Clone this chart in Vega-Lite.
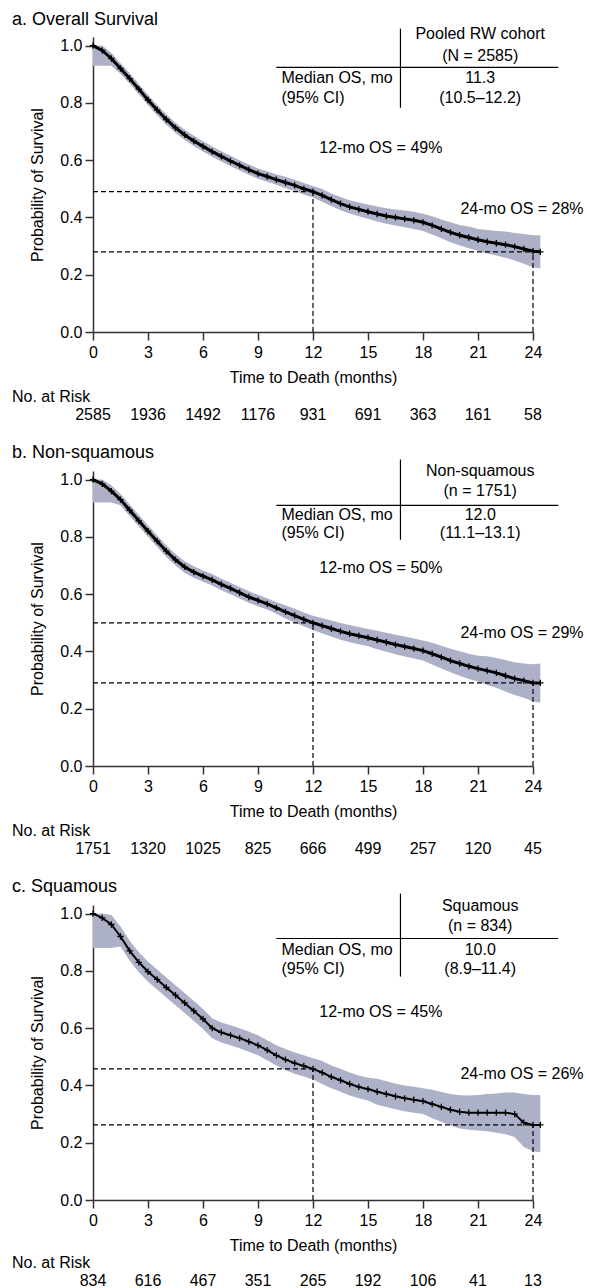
{
  "$schema": "https://vega.github.io/schema/vega-lite/v6.json",
  "background": "white",
  "padding": {"left": 12, "top": 10, "right": 5, "bottom": 0},
  "config": {
    "font": "Liberation Sans",
    "view": {"stroke": null},
    "axis": {"grid": false, "labelFontSize": 16, "titleFontSize": 16, "titleFontWeight": "normal", "labelColor": "#000", "titleColor": "#000", "domainColor": "#333", "tickColor": "#333", "domainWidth": 1.5, "tickWidth": 1.5, "tickSize": 8, "labelPadding": 3, "labelFont": "Liberation Sans", "titleFont": "Liberation Sans"},
    "axisX": {"titlePadding": 9, "labelPadding": 4, "labelFlush": false},
    "axisY": {"titlePadding": 14},
    "title": {"fontSize": 18, "fontWeight": "normal", "color": "#000", "anchor": "start", "font": "Liberation Sans"},
    "text": {"fontSize": 16, "color": "#000", "font": "Liberation Sans"}
  },
  "datasets": {
    "km_a": [
      {"t":0,"s":1,"lo":0.93,"hi":1},{"t":0.5,"s":0.983,"lo":0.93,"hi":1},{"t":1,"s":0.955,"lo":0.93,"hi":0.975},{"t":1.5,"s":0.92,"lo":0.902,"hi":0.938},{"t":2,"s":0.885,"lo":0.867,"hi":0.903},{"t":2.5,"s":0.848,"lo":0.83,"hi":0.866},{"t":3,"s":0.81,"lo":0.792,"hi":0.828},{"t":3.5,"s":0.775,"lo":0.757,"hi":0.793},{"t":4,"s":0.742,"lo":0.724,"hi":0.76},{"t":4.5,"s":0.713,"lo":0.695,"hi":0.731},{"t":5,"s":0.688,"lo":0.67,"hi":0.706},{"t":5.5,"s":0.667,"lo":0.649,"hi":0.685},{"t":6,"s":0.648,"lo":0.63,"hi":0.666},{"t":6.5,"s":0.63,"lo":0.612,"hi":0.648},{"t":7,"s":0.613,"lo":0.595,"hi":0.631},{"t":7.5,"s":0.597,"lo":0.579,"hi":0.615},{"t":8,"s":0.582,"lo":0.564,"hi":0.6},{"t":8.5,"s":0.567,"lo":0.549,"hi":0.585},{"t":9,"s":0.553,"lo":0.535,"hi":0.571},{"t":9.5,"s":0.543,"lo":0.525,"hi":0.561},{"t":10,"s":0.532,"lo":0.514,"hi":0.55},{"t":10.5,"s":0.522,"lo":0.502,"hi":0.542},{"t":11,"s":0.512,"lo":0.492,"hi":0.532},{"t":11.5,"s":0.5,"lo":0.48,"hi":0.52},{"t":12,"s":0.49,"lo":0.47,"hi":0.51},{"t":12.5,"s":0.477,"lo":0.455,"hi":0.499},{"t":13,"s":0.462,"lo":0.44,"hi":0.484},{"t":13.5,"s":0.448,"lo":0.425,"hi":0.471},{"t":14,"s":0.437,"lo":0.414,"hi":0.46},{"t":14.5,"s":0.428,"lo":0.404,"hi":0.452},{"t":15,"s":0.42,"lo":0.395,"hi":0.445},{"t":15.5,"s":0.412,"lo":0.386,"hi":0.438},{"t":16,"s":0.405,"lo":0.378,"hi":0.432},{"t":16.5,"s":0.4,"lo":0.372,"hi":0.428},{"t":17,"s":0.395,"lo":0.366,"hi":0.424},{"t":17.5,"s":0.39,"lo":0.36,"hi":0.42},{"t":18,"s":0.383,"lo":0.353,"hi":0.413},{"t":18.5,"s":0.372,"lo":0.34,"hi":0.404},{"t":19,"s":0.36,"lo":0.327,"hi":0.393},{"t":19.5,"s":0.348,"lo":0.313,"hi":0.383},{"t":20,"s":0.338,"lo":0.302,"hi":0.374},{"t":20.5,"s":0.33,"lo":0.292,"hi":0.368},{"t":21,"s":0.322,"lo":0.284,"hi":0.36},{"t":21.5,"s":0.315,"lo":0.274,"hi":0.356},{"t":22,"s":0.31,"lo":0.267,"hi":0.353},{"t":22.5,"s":0.305,"lo":0.259,"hi":0.351},{"t":23,"s":0.298,"lo":0.25,"hi":0.346},{"t":23.5,"s":0.29,"lo":0.238,"hi":0.342},{"t":24,"s":0.282,"lo":0.226,"hi":0.338},{"t":24.4,"s":0.28,"lo":0.222,"hi":0.338}
    ],
    "km_b": [
      {"t":0,"s":1,"lo":0.92,"hi":1},{"t":0.5,"s":0.985,"lo":0.92,"hi":1},{"t":1,"s":0.96,"lo":0.92,"hi":0.98},{"t":1.5,"s":0.93,"lo":0.91,"hi":0.95},{"t":2,"s":0.893,"lo":0.873,"hi":0.913},{"t":2.5,"s":0.856,"lo":0.836,"hi":0.876},{"t":3,"s":0.82,"lo":0.8,"hi":0.84},{"t":3.5,"s":0.785,"lo":0.765,"hi":0.805},{"t":4,"s":0.75,"lo":0.73,"hi":0.77},{"t":4.5,"s":0.72,"lo":0.7,"hi":0.74},{"t":5,"s":0.695,"lo":0.675,"hi":0.715},{"t":5.5,"s":0.677,"lo":0.657,"hi":0.697},{"t":6,"s":0.663,"lo":0.643,"hi":0.683},{"t":6.5,"s":0.65,"lo":0.63,"hi":0.67},{"t":7,"s":0.634,"lo":0.614,"hi":0.654},{"t":7.5,"s":0.62,"lo":0.6,"hi":0.64},{"t":8,"s":0.605,"lo":0.585,"hi":0.625},{"t":8.5,"s":0.59,"lo":0.57,"hi":0.61},{"t":9,"s":0.578,"lo":0.558,"hi":0.598},{"t":9.5,"s":0.566,"lo":0.546,"hi":0.586},{"t":10,"s":0.552,"lo":0.532,"hi":0.572},{"t":10.5,"s":0.538,"lo":0.515,"hi":0.561},{"t":11,"s":0.525,"lo":0.501,"hi":0.549},{"t":11.5,"s":0.512,"lo":0.488,"hi":0.536},{"t":12,"s":0.5,"lo":0.475,"hi":0.525},{"t":12.5,"s":0.49,"lo":0.463,"hi":0.517},{"t":13,"s":0.48,"lo":0.452,"hi":0.508},{"t":13.5,"s":0.47,"lo":0.441,"hi":0.499},{"t":14,"s":0.462,"lo":0.432,"hi":0.492},{"t":14.5,"s":0.455,"lo":0.425,"hi":0.485},{"t":15,"s":0.448,"lo":0.418,"hi":0.478},{"t":15.5,"s":0.44,"lo":0.408,"hi":0.472},{"t":16,"s":0.432,"lo":0.399,"hi":0.465},{"t":16.5,"s":0.424,"lo":0.39,"hi":0.458},{"t":17,"s":0.417,"lo":0.382,"hi":0.452},{"t":17.5,"s":0.41,"lo":0.375,"hi":0.445},{"t":18,"s":0.403,"lo":0.368,"hi":0.438},{"t":18.5,"s":0.392,"lo":0.354,"hi":0.43},{"t":19,"s":0.38,"lo":0.34,"hi":0.42},{"t":19.5,"s":0.368,"lo":0.327,"hi":0.409},{"t":20,"s":0.358,"lo":0.315,"hi":0.401},{"t":20.5,"s":0.348,"lo":0.304,"hi":0.392},{"t":21,"s":0.34,"lo":0.295,"hi":0.385},{"t":21.5,"s":0.333,"lo":0.283,"hi":0.383},{"t":22,"s":0.325,"lo":0.273,"hi":0.377},{"t":22.5,"s":0.315,"lo":0.26,"hi":0.37},{"t":23,"s":0.305,"lo":0.248,"hi":0.362},{"t":23.5,"s":0.298,"lo":0.238,"hi":0.358},{"t":24,"s":0.29,"lo":0.225,"hi":0.355},{"t":24.4,"s":0.29,"lo":0.222,"hi":0.358}
    ],
    "km_c": [
      {"t":0,"s":1,"lo":0.88,"hi":1},{"t":0.5,"s":0.985,"lo":0.88,"hi":1},{"t":1,"s":0.962,"lo":0.88,"hi":0.995},{"t":1.5,"s":0.92,"lo":0.885,"hi":0.955},{"t":2,"s":0.87,"lo":0.835,"hi":0.905},{"t":2.5,"s":0.83,"lo":0.795,"hi":0.865},{"t":3,"s":0.797,"lo":0.762,"hi":0.832},{"t":3.5,"s":0.77,"lo":0.735,"hi":0.805},{"t":4,"s":0.742,"lo":0.707,"hi":0.777},{"t":4.5,"s":0.715,"lo":0.68,"hi":0.75},{"t":5,"s":0.688,"lo":0.653,"hi":0.723},{"t":5.5,"s":0.66,"lo":0.625,"hi":0.695},{"t":6,"s":0.632,"lo":0.597,"hi":0.667},{"t":6.5,"s":0.6,"lo":0.565,"hi":0.635},{"t":7,"s":0.585,"lo":0.55,"hi":0.62},{"t":7.5,"s":0.575,"lo":0.54,"hi":0.61},{"t":8,"s":0.565,"lo":0.53,"hi":0.6},{"t":8.5,"s":0.553,"lo":0.518,"hi":0.588},{"t":9,"s":0.54,"lo":0.505,"hi":0.575},{"t":9.5,"s":0.523,"lo":0.488,"hi":0.558},{"t":10,"s":0.505,"lo":0.47,"hi":0.54},{"t":10.5,"s":0.49,"lo":0.453,"hi":0.527},{"t":11,"s":0.478,"lo":0.441,"hi":0.515},{"t":11.5,"s":0.468,"lo":0.431,"hi":0.505},{"t":12,"s":0.458,"lo":0.421,"hi":0.495},{"t":12.5,"s":0.445,"lo":0.405,"hi":0.485},{"t":13,"s":0.43,"lo":0.39,"hi":0.47},{"t":13.5,"s":0.418,"lo":0.378,"hi":0.458},{"t":14,"s":0.405,"lo":0.365,"hi":0.445},{"t":14.5,"s":0.395,"lo":0.355,"hi":0.435},{"t":15,"s":0.387,"lo":0.347,"hi":0.427},{"t":15.5,"s":0.378,"lo":0.333,"hi":0.423},{"t":16,"s":0.37,"lo":0.325,"hi":0.415},{"t":16.5,"s":0.362,"lo":0.317,"hi":0.407},{"t":17,"s":0.355,"lo":0.31,"hi":0.4},{"t":17.5,"s":0.35,"lo":0.305,"hi":0.395},{"t":18,"s":0.345,"lo":0.3,"hi":0.39},{"t":18.5,"s":0.335,"lo":0.285,"hi":0.385},{"t":19,"s":0.325,"lo":0.273,"hi":0.377},{"t":19.5,"s":0.315,"lo":0.26,"hi":0.37},{"t":20,"s":0.308,"lo":0.25,"hi":0.366},{"t":20.5,"s":0.305,"lo":0.245,"hi":0.365},{"t":21,"s":0.305,"lo":0.243,"hi":0.367},{"t":21.5,"s":0.305,"lo":0.24,"hi":0.37},{"t":22,"s":0.305,"lo":0.235,"hi":0.372},{"t":22.5,"s":0.305,"lo":0.23,"hi":0.375},{"t":23,"s":0.3,"lo":0.22,"hi":0.375},{"t":23.5,"s":0.27,"lo":0.185,"hi":0.37},{"t":24,"s":0.262,"lo":0.17,"hi":0.367},{"t":24.4,"s":0.262,"lo":0.167,"hi":0.367}
    ],
    "ref": [
      {"p":"a","z":0,"t":12,"v":0.49},{"p":"a","z":0,"t":24,"v":0.28},
      {"p":"b","z":0,"t":12,"v":0.5},{"p":"b","z":0,"t":24,"v":0.29},
      {"p":"c","z":0,"t":12,"v":0.458},{"p":"c","z":0,"t":24,"v":0.262}
    ],
    "info": [
      {"p":"a","header":"Pooled RW cohort","n":"(N = 2585)","med":"11.3","ci":"(10.5–12.2)","lab12":"12-mo OS = 49%","lab24":"24-mo OS = 28%"},
      {"p":"b","header":"Non-squamous","n":"(n = 1751)","med":"12.0","ci":"(11.1–13.1)","lab12":"12-mo OS = 50%","lab24":"24-mo OS = 29%"},
      {"p":"c","header":"Squamous","n":"(n = 834)","med":"10.0","ci":"(8.9–11.4)","lab12":"12-mo OS = 45%","lab24":"24-mo OS = 26%"}
    ],
    "risk": [
      {"p":"a","t":0,"n":2585},{"p":"a","t":3,"n":1936},{"p":"a","t":6,"n":1492},{"p":"a","t":9,"n":1176},{"p":"a","t":12,"n":931},{"p":"a","t":15,"n":691},{"p":"a","t":18,"n":363},{"p":"a","t":21,"n":161},{"p":"a","t":24,"n":58},
      {"p":"b","t":0,"n":1751},{"p":"b","t":3,"n":1320},{"p":"b","t":6,"n":1025},{"p":"b","t":9,"n":825},{"p":"b","t":12,"n":666},{"p":"b","t":15,"n":499},{"p":"b","t":18,"n":257},{"p":"b","t":21,"n":120},{"p":"b","t":24,"n":45},
      {"p":"c","t":0,"n":834},{"p":"c","t":3,"n":616},{"p":"c","t":6,"n":467},{"p":"c","t":9,"n":351},{"p":"c","t":12,"n":265},{"p":"c","t":15,"n":192},{"p":"c","t":18,"n":106},{"p":"c","t":21,"n":41},{"p":"c","t":24,"n":13}
    ]
  },
  "spacing": 20,
  "vconcat": [
    {
      "spacing": 4,
      "vconcat": [
        {
          "width": 440, "height": 295,
          "title": {"text": "a. Overall Survival", "anchor": "start", "frame": "group", "dx": -81, "offset": -3},
          "layer": [
            {"data": {"name": "km_a"}, "mark": {"type": "area", "color": "#acb1c7", "opacity": 1},
             "encoding": {
               "x": {"field": "t", "type": "quantitative", "title": "Time to Death (months)", "scale": {"domain": [0, 24], "nice": false}, "axis": {"values": [0,3,6,9,12,15,18,21,24]}},
               "y": {"field": "lo", "type": "quantitative", "title": "Probability of Survival", "scale": {"domain": [0, 1.03], "nice": false}, "axis": {"values": [0,0.2,0.4,0.6,0.8,1], "format": ".1f"}},
               "y2": {"field": "hi"}}},
            {"data": {"name": "km_a"}, "mark": {"type": "line", "color": "#000", "strokeWidth": 3},
             "encoding": {"x": {"field": "t", "type": "quantitative", "title": "Time to Death (months)"}, "y": {"field": "s", "type": "quantitative", "title": "Probability of Survival"}}},
            {"data": {"name": "km_a"}, "mark": {"type": "point", "shape": "M-1,0H1M0,-1V1", "size": 40, "strokeWidth": 1.3, "color": "#000", "filled": false, "opacity": 1},
             "encoding": {"x": {"field": "t", "type": "quantitative", "title": "Time to Death (months)"}, "y": {"field": "s", "type": "quantitative", "title": "Probability of Survival"}}},
            {"data": {"name": "ref"}, "transform": [{"filter": "datum.p == 'a'"}], "mark": {"type": "rule", "color": "#000", "strokeDash": [5, 3], "strokeWidth": 1.2},
             "encoding": {"x": {"field": "z", "type": "quantitative", "title": "Time to Death (months)"}, "x2": {"field": "t"}, "y": {"field": "v", "type": "quantitative", "title": "Probability of Survival"}}},
            {"data": {"name": "ref"}, "transform": [{"filter": "datum.p == 'a'"}], "mark": {"type": "rule", "color": "#000", "strokeDash": [5, 3], "strokeWidth": 1.2},
             "encoding": {"x": {"field": "t", "type": "quantitative", "title": "Time to Death (months)"}, "y": {"field": "z", "type": "quantitative", "title": "Probability of Survival"}, "y2": {"field": "v"}}},
            {"data": {"name": "info"}, "transform": [{"filter": "datum.p == 'a'"}], "mark": {"type": "text", "align": "center", "baseline": "middle"},
             "encoding": {"x": {"datum": 15.7, "type": "quantitative"}, "y": {"datum": 0.643, "type": "quantitative"}, "text": {"field": "lab12", "type": "nominal"}}},
            {"data": {"name": "info"}, "transform": [{"filter": "datum.p == 'a'"}], "mark": {"type": "text", "align": "center", "baseline": "middle"},
             "encoding": {"x": {"datum": 23.4, "type": "quantitative"}, "y": {"datum": 0.43, "type": "quantitative"}, "text": {"field": "lab24", "type": "nominal"}}},
            {"data": {"name": "info"}, "transform": [{"filter": "datum.p == 'a'"}], "mark": {"type": "rule", "color": "#000", "strokeWidth": 1.2},
             "encoding": {"x": {"datum": 16.77, "type": "quantitative"}, "y": {"datum": 0.783, "type": "quantitative"}, "y2": {"datum": 1.059}}},
            {"data": {"name": "info"}, "transform": [{"filter": "datum.p == 'a'"}], "mark": {"type": "rule", "color": "#000", "strokeWidth": 1.2},
             "encoding": {"x": {"datum": 10.0, "type": "quantitative"}, "x2": {"datum": 25.38}, "y": {"datum": 0.924, "type": "quantitative"}}},
            {"data": {"name": "info"}, "transform": [{"filter": "datum.p == 'a'"}], "mark": {"type": "text", "align": "center", "baseline": "middle"},
             "encoding": {"x": {"datum": 21.12, "type": "quantitative"}, "y": {"datum": 1.042, "type": "quantitative"}, "text": {"field": "header", "type": "nominal"}}},
            {"data": {"name": "info"}, "transform": [{"filter": "datum.p == 'a'"}], "mark": {"type": "text", "align": "center", "baseline": "middle"},
             "encoding": {"x": {"datum": 21.12, "type": "quantitative"}, "y": {"datum": 0.965, "type": "quantitative"}, "text": {"field": "n", "type": "nominal"}}},
            {"data": {"name": "info"}, "transform": [{"filter": "datum.p == 'a'"}], "mark": {"type": "text", "align": "center", "baseline": "middle"},
             "encoding": {"x": {"datum": 21.12, "type": "quantitative"}, "y": {"datum": 0.888, "type": "quantitative"}, "text": {"field": "med", "type": "nominal"}}},
            {"data": {"name": "info"}, "transform": [{"filter": "datum.p == 'a'"}], "mark": {"type": "text", "align": "center", "baseline": "middle"},
             "encoding": {"x": {"datum": 21.12, "type": "quantitative"}, "y": {"datum": 0.818, "type": "quantitative"}, "text": {"field": "ci", "type": "nominal"}}},
            {"data": {"name": "info"}, "transform": [{"filter": "datum.p == 'a'"}], "mark": {"type": "text", "align": "left", "baseline": "middle"},
             "encoding": {"x": {"datum": 10.28, "type": "quantitative"}, "y": {"datum": 0.888, "type": "quantitative"}, "text": {"value": "Median OS, mo"}}},
            {"data": {"name": "info"}, "transform": [{"filter": "datum.p == 'a'"}], "mark": {"type": "text", "align": "left", "baseline": "middle"},
             "encoding": {"x": {"datum": 10.28, "type": "quantitative"}, "y": {"datum": 0.818, "type": "quantitative"}, "text": {"value": "(95% CI)"}}}
          ]
        },
        {
          "width": 440, "height": 16,
          "title": {"text": "No. at Risk", "anchor": "start", "frame": "group", "dx": -81, "offset": 2, "fontSize": 16},
          "data": {"name": "risk"}, "transform": [{"filter": "datum.p == 'a'"}],
          "mark": {"type": "text", "baseline": "middle", "align": "center"},
          "encoding": {"x": {"field": "t", "type": "quantitative", "scale": {"domain": [0, 24], "nice": false}, "axis": null}, "text": {"field": "n", "type": "quantitative", "format": "d"}}
        }
      ]
    },
    {
      "spacing": 4,
      "vconcat": [
        {
          "width": 440, "height": 295,
          "title": {"text": "b. Non-squamous", "anchor": "start", "frame": "group", "dx": -81, "offset": -3},
          "layer": [
            {"data": {"name": "km_b"}, "mark": {"type": "area", "color": "#acb1c7", "opacity": 1},
             "encoding": {
               "x": {"field": "t", "type": "quantitative", "title": "Time to Death (months)", "scale": {"domain": [0, 24], "nice": false}, "axis": {"values": [0,3,6,9,12,15,18,21,24]}},
               "y": {"field": "lo", "type": "quantitative", "title": "Probability of Survival", "scale": {"domain": [0, 1.03], "nice": false}, "axis": {"values": [0,0.2,0.4,0.6,0.8,1], "format": ".1f"}},
               "y2": {"field": "hi"}}},
            {"data": {"name": "km_b"}, "mark": {"type": "line", "color": "#000", "strokeWidth": 3},
             "encoding": {"x": {"field": "t", "type": "quantitative", "title": "Time to Death (months)"}, "y": {"field": "s", "type": "quantitative", "title": "Probability of Survival"}}},
            {"data": {"name": "km_b"}, "mark": {"type": "point", "shape": "M-1,0H1M0,-1V1", "size": 40, "strokeWidth": 1.3, "color": "#000", "filled": false, "opacity": 1},
             "encoding": {"x": {"field": "t", "type": "quantitative", "title": "Time to Death (months)"}, "y": {"field": "s", "type": "quantitative", "title": "Probability of Survival"}}},
            {"data": {"name": "ref"}, "transform": [{"filter": "datum.p == 'b'"}], "mark": {"type": "rule", "color": "#000", "strokeDash": [5, 3], "strokeWidth": 1.2},
             "encoding": {"x": {"field": "z", "type": "quantitative", "title": "Time to Death (months)"}, "x2": {"field": "t"}, "y": {"field": "v", "type": "quantitative", "title": "Probability of Survival"}}},
            {"data": {"name": "ref"}, "transform": [{"filter": "datum.p == 'b'"}], "mark": {"type": "rule", "color": "#000", "strokeDash": [5, 3], "strokeWidth": 1.2},
             "encoding": {"x": {"field": "t", "type": "quantitative", "title": "Time to Death (months)"}, "y": {"field": "z", "type": "quantitative", "title": "Probability of Survival"}, "y2": {"field": "v"}}},
            {"data": {"name": "info"}, "transform": [{"filter": "datum.p == 'b'"}], "mark": {"type": "text", "align": "center", "baseline": "middle"},
             "encoding": {"x": {"datum": 15.7, "type": "quantitative"}, "y": {"datum": 0.69, "type": "quantitative"}, "text": {"field": "lab12", "type": "nominal"}}},
            {"data": {"name": "info"}, "transform": [{"filter": "datum.p == 'b'"}], "mark": {"type": "text", "align": "center", "baseline": "middle"},
             "encoding": {"x": {"datum": 23.4, "type": "quantitative"}, "y": {"datum": 0.466, "type": "quantitative"}, "text": {"field": "lab24", "type": "nominal"}}},
            {"data": {"name": "info"}, "transform": [{"filter": "datum.p == 'b'"}], "mark": {"type": "rule", "color": "#000", "strokeWidth": 1.2},
             "encoding": {"x": {"datum": 16.77, "type": "quantitative"}, "y": {"datum": 0.79, "type": "quantitative"}, "y2": {"datum": 1.07}}},
            {"data": {"name": "info"}, "transform": [{"filter": "datum.p == 'b'"}], "mark": {"type": "rule", "color": "#000", "strokeWidth": 1.2},
             "encoding": {"x": {"datum": 10.0, "type": "quantitative"}, "x2": {"datum": 25.38}, "y": {"datum": 0.91, "type": "quantitative"}}},
            {"data": {"name": "info"}, "transform": [{"filter": "datum.p == 'b'"}], "mark": {"type": "text", "align": "center", "baseline": "middle"},
             "encoding": {"x": {"datum": 21.12, "type": "quantitative"}, "y": {"datum": 1.03, "type": "quantitative"}, "text": {"field": "header", "type": "nominal"}}},
            {"data": {"name": "info"}, "transform": [{"filter": "datum.p == 'b'"}], "mark": {"type": "text", "align": "center", "baseline": "middle"},
             "encoding": {"x": {"datum": 21.12, "type": "quantitative"}, "y": {"datum": 0.96, "type": "quantitative"}, "text": {"field": "n", "type": "nominal"}}},
            {"data": {"name": "info"}, "transform": [{"filter": "datum.p == 'b'"}], "mark": {"type": "text", "align": "center", "baseline": "middle"},
             "encoding": {"x": {"datum": 21.12, "type": "quantitative"}, "y": {"datum": 0.876, "type": "quantitative"}, "text": {"field": "med", "type": "nominal"}}},
            {"data": {"name": "info"}, "transform": [{"filter": "datum.p == 'b'"}], "mark": {"type": "text", "align": "center", "baseline": "middle"},
             "encoding": {"x": {"datum": 21.12, "type": "quantitative"}, "y": {"datum": 0.813, "type": "quantitative"}, "text": {"field": "ci", "type": "nominal"}}},
            {"data": {"name": "info"}, "transform": [{"filter": "datum.p == 'b'"}], "mark": {"type": "text", "align": "left", "baseline": "middle"},
             "encoding": {"x": {"datum": 10.28, "type": "quantitative"}, "y": {"datum": 0.876, "type": "quantitative"}, "text": {"value": "Median OS, mo"}}},
            {"data": {"name": "info"}, "transform": [{"filter": "datum.p == 'b'"}], "mark": {"type": "text", "align": "left", "baseline": "middle"},
             "encoding": {"x": {"datum": 10.28, "type": "quantitative"}, "y": {"datum": 0.813, "type": "quantitative"}, "text": {"value": "(95% CI)"}}}
          ]
        },
        {
          "width": 440, "height": 16,
          "title": {"text": "No. at Risk", "anchor": "start", "frame": "group", "dx": -81, "offset": 2, "fontSize": 16},
          "data": {"name": "risk"}, "transform": [{"filter": "datum.p == 'b'"}],
          "mark": {"type": "text", "baseline": "middle", "align": "center"},
          "encoding": {"x": {"field": "t", "type": "quantitative", "scale": {"domain": [0, 24], "nice": false}, "axis": null}, "text": {"field": "n", "type": "quantitative", "format": "d"}}
        }
      ]
    },
    {
      "spacing": 2,
      "vconcat": [
        {
          "width": 440, "height": 295,
          "title": {"text": "c. Squamous", "anchor": "start", "frame": "group", "dx": -81, "offset": -3},
          "layer": [
            {"data": {"name": "km_c"}, "mark": {"type": "area", "color": "#acb1c7", "opacity": 1},
             "encoding": {
               "x": {"field": "t", "type": "quantitative", "title": "Time to Death (months)", "scale": {"domain": [0, 24], "nice": false}, "axis": {"values": [0,3,6,9,12,15,18,21,24]}},
               "y": {"field": "lo", "type": "quantitative", "title": "Probability of Survival", "scale": {"domain": [0, 1.03], "nice": false}, "axis": {"values": [0,0.2,0.4,0.6,0.8,1], "format": ".1f"}},
               "y2": {"field": "hi"}}},
            {"data": {"name": "km_c"}, "mark": {"type": "line", "color": "#000", "strokeWidth": 2},
             "encoding": {"x": {"field": "t", "type": "quantitative", "title": "Time to Death (months)"}, "y": {"field": "s", "type": "quantitative", "title": "Probability of Survival"}}},
            {"data": {"name": "km_c"}, "mark": {"type": "point", "shape": "M-1,0H1M0,-1V1", "size": 40, "strokeWidth": 1.3, "color": "#000", "filled": false, "opacity": 1},
             "encoding": {"x": {"field": "t", "type": "quantitative", "title": "Time to Death (months)"}, "y": {"field": "s", "type": "quantitative", "title": "Probability of Survival"}}},
            {"data": {"name": "ref"}, "transform": [{"filter": "datum.p == 'c'"}], "mark": {"type": "rule", "color": "#000", "strokeDash": [5, 3], "strokeWidth": 1.2},
             "encoding": {"x": {"field": "z", "type": "quantitative", "title": "Time to Death (months)"}, "x2": {"field": "t"}, "y": {"field": "v", "type": "quantitative", "title": "Probability of Survival"}}},
            {"data": {"name": "ref"}, "transform": [{"filter": "datum.p == 'c'"}], "mark": {"type": "rule", "color": "#000", "strokeDash": [5, 3], "strokeWidth": 1.2},
             "encoding": {"x": {"field": "t", "type": "quantitative", "title": "Time to Death (months)"}, "y": {"field": "z", "type": "quantitative", "title": "Probability of Survival"}, "y2": {"field": "v"}}},
            {"data": {"name": "info"}, "transform": [{"filter": "datum.p == 'c'"}], "mark": {"type": "text", "align": "center", "baseline": "middle"},
             "encoding": {"x": {"datum": 15.7, "type": "quantitative"}, "y": {"datum": 0.657, "type": "quantitative"}, "text": {"field": "lab12", "type": "nominal"}}},
            {"data": {"name": "info"}, "transform": [{"filter": "datum.p == 'c'"}], "mark": {"type": "text", "align": "center", "baseline": "middle"},
             "encoding": {"x": {"datum": 23.4, "type": "quantitative"}, "y": {"datum": 0.44, "type": "quantitative"}, "text": {"field": "lab24", "type": "nominal"}}},
            {"data": {"name": "info"}, "transform": [{"filter": "datum.p == 'c'"}], "mark": {"type": "rule", "color": "#000", "strokeWidth": 1.2},
             "encoding": {"x": {"datum": 16.77, "type": "quantitative"}, "y": {"datum": 0.78, "type": "quantitative"}, "y2": {"datum": 1.07}}},
            {"data": {"name": "info"}, "transform": [{"filter": "datum.p == 'c'"}], "mark": {"type": "rule", "color": "#000", "strokeWidth": 1.2},
             "encoding": {"x": {"datum": 10.0, "type": "quantitative"}, "x2": {"datum": 25.38}, "y": {"datum": 0.913, "type": "quantitative"}}},
            {"data": {"name": "info"}, "transform": [{"filter": "datum.p == 'c'"}], "mark": {"type": "text", "align": "center", "baseline": "middle"},
             "encoding": {"x": {"datum": 21.12, "type": "quantitative"}, "y": {"datum": 1.028, "type": "quantitative"}, "text": {"field": "header", "type": "nominal"}}},
            {"data": {"name": "info"}, "transform": [{"filter": "datum.p == 'c'"}], "mark": {"type": "text", "align": "center", "baseline": "middle"},
             "encoding": {"x": {"datum": 21.12, "type": "quantitative"}, "y": {"datum": 0.958, "type": "quantitative"}, "text": {"field": "n", "type": "nominal"}}},
            {"data": {"name": "info"}, "transform": [{"filter": "datum.p == 'c'"}], "mark": {"type": "text", "align": "center", "baseline": "middle"},
             "encoding": {"x": {"datum": 21.12, "type": "quantitative"}, "y": {"datum": 0.874, "type": "quantitative"}, "text": {"field": "med", "type": "nominal"}}},
            {"data": {"name": "info"}, "transform": [{"filter": "datum.p == 'c'"}], "mark": {"type": "text", "align": "center", "baseline": "middle"},
             "encoding": {"x": {"datum": 21.12, "type": "quantitative"}, "y": {"datum": 0.808, "type": "quantitative"}, "text": {"field": "ci", "type": "nominal"}}},
            {"data": {"name": "info"}, "transform": [{"filter": "datum.p == 'c'"}], "mark": {"type": "text", "align": "left", "baseline": "middle"},
             "encoding": {"x": {"datum": 10.28, "type": "quantitative"}, "y": {"datum": 0.874, "type": "quantitative"}, "text": {"value": "Median OS, mo"}}},
            {"data": {"name": "info"}, "transform": [{"filter": "datum.p == 'c'"}], "mark": {"type": "text", "align": "left", "baseline": "middle"},
             "encoding": {"x": {"datum": 10.28, "type": "quantitative"}, "y": {"datum": 0.808, "type": "quantitative"}, "text": {"value": "(95% CI)"}}}
          ]
        },
        {
          "width": 440, "height": 16,
          "title": {"text": "No. at Risk", "anchor": "start", "frame": "group", "dx": -81, "offset": 2, "fontSize": 16},
          "data": {"name": "risk"}, "transform": [{"filter": "datum.p == 'c'"}],
          "mark": {"type": "text", "baseline": "middle", "align": "center"},
          "encoding": {"x": {"field": "t", "type": "quantitative", "scale": {"domain": [0, 24], "nice": false}, "axis": null}, "text": {"field": "n", "type": "quantitative", "format": "d"}}
        }
      ]
    }
  ]
}
